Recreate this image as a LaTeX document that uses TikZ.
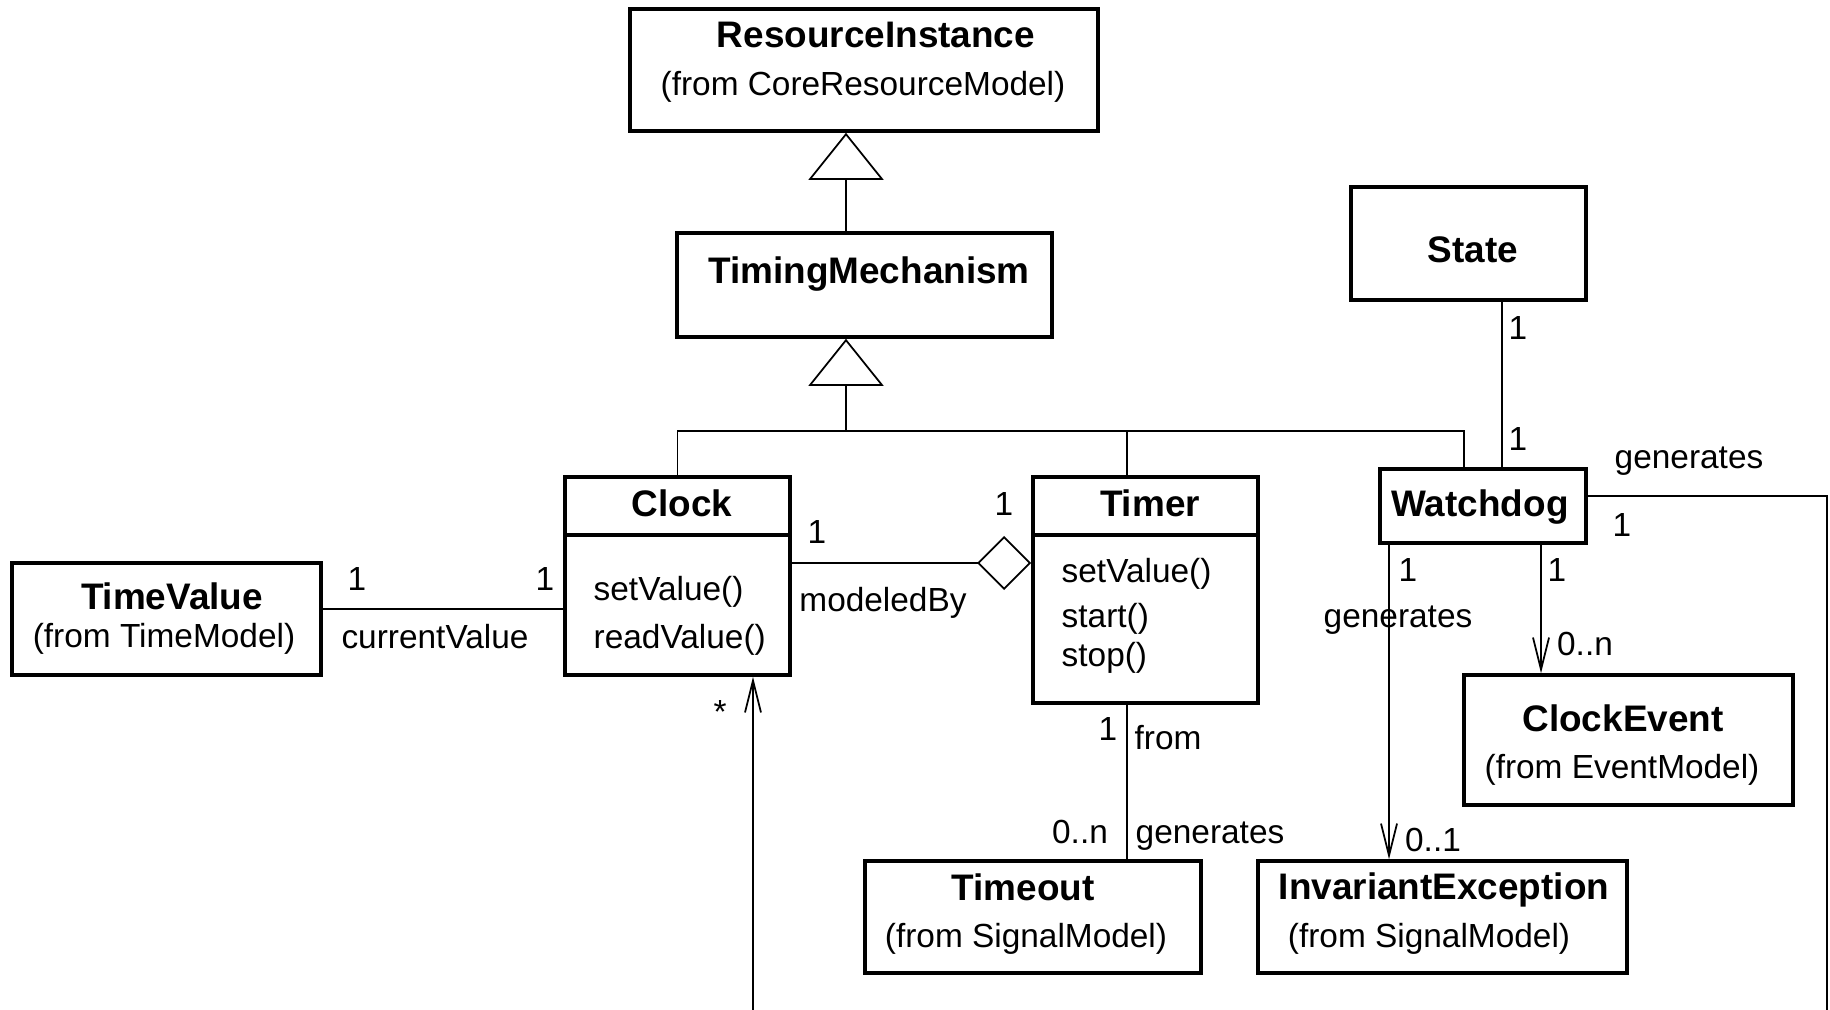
\documentclass[tikz,border=0pt]{standalone}
\usepackage{fontspec}
\setmainfont{Liberation Sans}
\usetikzlibrary{arrows.meta}
\begin{document}
\begin{tikzpicture}[x=0.01cm, y=-0.01cm,
  cls/.style={draw, line width=1pt, inner sep=0pt},
  title/.style={inner sep=0pt, font=\fontsize{10.5}{12}\selectfont\bfseries},
  txt/.style={inner sep=0pt, font=\fontsize{9.5}{11}\selectfont},
  conn/.style={line width=0.5pt},
  gen/.style={conn, -{Triangle[open, length=4.7mm, width=7.5mm]}},
  agg/.style={conn, -{Diamond[open, length=5.4mm, width=5.4mm]}},
  nav/.style={conn, -{Straight Barb[length=3.2mm, width=1.6mm]}}]
  \useasboundingbox (0,0) rectangle (1830,1010);
  % Classes
  \node[cls, minimum width=4.68cm, minimum height=1.22cm] (ri) at (864,70) {};
  \node[cls, minimum width=3.75cm, minimum height=1.04cm] (tm) at (864.5,285) {};
  \node[cls, minimum width=2.25cm, minimum height=1.98cm] (clock) at (677.5,576) {};
  \node[cls, minimum width=2.25cm, minimum height=2.26cm] (timer) at (1145.5,590) {};
  \node[cls, minimum width=3.09cm, minimum height=1.12cm] (tv) at (166.5,619) {};
  \node[cls, minimum width=2.35cm, minimum height=1.13cm] (state) at (1468.5,243.5) {};
  \node[cls, minimum width=2.06cm, minimum height=0.74cm] (wd) at (1483,506) {};
  \node[cls, minimum width=3.29cm, minimum height=1.30cm] (ce) at (1628.5,740) {};
  \node[cls, minimum width=3.36cm, minimum height=1.12cm] (to) at (1033,917) {};
  \node[cls, minimum width=3.69cm, minimum height=1.12cm] (ie) at (1442.5,917) {};
  % Compartments
  \coordinate (div) at (0,535);
  \draw[line width=1pt] (clock.west |- div) -- (clock.east |- div);
  \draw[line width=1pt] (timer.west |- div) -- (timer.east |- div);
  % Class names
  \node[title] (ri-t) at (876,35) {ResourceInstance};
  \node[txt] (ri-f) at (863,87) {(from CoreResourceModel)};
  \node[title] (tm-t) at (869,274) {TimingMechanism};
  \node[title] (clock-t) at (682,503) {Clock};
  \node[txt, anchor=west] (clock-m1) at (593,592) {setValue()};
  \node[txt, anchor=west] (clock-m2) at (593,640) {readValue()};
  \node[title] (timer-t) at (1150,503) {Timer};
  \node[txt, anchor=west] (timer-m1) at (1061,574) {setValue()};
  \node[txt, anchor=west] (timer-m2) at (1061,619) {start()};
  \node[txt, anchor=west] (timer-m3) at (1061,658) {stop()};
  \node[title] (tv-t) at (172,596) {TimeValue};
  \node[txt] (tv-f) at (164,639) {(from TimeModel)};
  \node[title] (state-t) at (1473,250) {State};
  \node[title] (wd-t) at (1480,507) {Watchdog};
  \node[title] (ce-t) at (1623,718) {ClockEvent};
  \node[txt] (ce-f) at (1622,770) {(from EventModel)};
  \node[title] (to-t) at (1023,887) {Timeout};
  \node[txt] (to-f) at (1026,939) {(from SignalModel)};
  \node[title] (ie-t) at (1444,890) {InvariantException};
  \node[txt] (ie-f) at (1429,939) {(from SignalModel)};
  % Generalizations
  \coordinate (g1) at (846,0);
  \coordinate (bus) at (846,431);
  \coordinate (brT) at (1127,431);
  \coordinate (brW) at (1464,431);
  \draw[gen] (tm.north -| g1) -- (ri.south -| g1);
  \draw[gen] (bus) -- (tm.south -| bus);
  \draw[conn] (clock.north) |- (brW) -- (wd.north -| brW);
  \draw[conn] (brT) -- (timer.north -| brT);
  % Associations
  \coordinate (cv) at (0,609);
  \coordinate (mb) at (0,563);
  \coordinate (sw) at (1502,0);
  \coordinate (wdR) at (0,496);
  \coordinate (xIE) at (1389,0);
  \coordinate (xCE) at (1541,0);
  \coordinate (outW) at (1827,1010);
  \coordinate (inC) at (753,1010);
  \draw[conn] (tv.east |- cv) -- (clock.west |- cv);
  \draw[agg] (clock.east |- mb) -- (timer.west |- mb);
  \draw[conn] (timer.south -| brT) -- (to.north -| brT);
  \draw[conn] (state.south -| sw) -- (wd.north -| sw);
  \draw[conn] (wd.east |- wdR) -| (outW);
  \draw[nav] (wd.south -| xIE) -- (ie.north -| xIE);
  \draw[nav] (wd.south -| xCE) -- (ce.north -| xCE);
  \draw[nav] (inC) -- (clock.south -| inC);
  % Role names and multiplicities
  \node[txt] (m1) at (357,579) {1};
  \node[txt] (m2) at (545,579) {1};
  \node[txt] (r1) at (435,637) {currentValue};
  \node[txt] (m3) at (817,532) {1};
  \node[txt] (m4) at (1004,504) {1};
  \node[txt] (r2) at (883,603) {modeledBy};
  \node[txt] (m5) at (1108,729) {1};
  \node[txt] (r3) at (1168,738) {from};
  \node[txt] (m6) at (1080,832) {0..n};
  \node[txt] (r4) at (1210,836) {generates};
  \node[txt] (m7) at (1518,328) {1};
  \node[txt] (m8) at (1518,439) {1};
  \node[txt] (r5) at (1689,461) {generates};
  \node[txt] (m9) at (1622,525) {1};
  \node[txt] (m10) at (1408,570) {1};
  \node[txt] (r6) at (1398,620) {generates};
  \node[txt] (m11) at (1433,840) {0..1};
  \node[txt] (m12) at (1557,570) {1};
  \node[txt] (m13) at (1585,644) {0..n};
  \node[txt] (m14) at (720,712) {*};
\end{tikzpicture}
\end{document}
